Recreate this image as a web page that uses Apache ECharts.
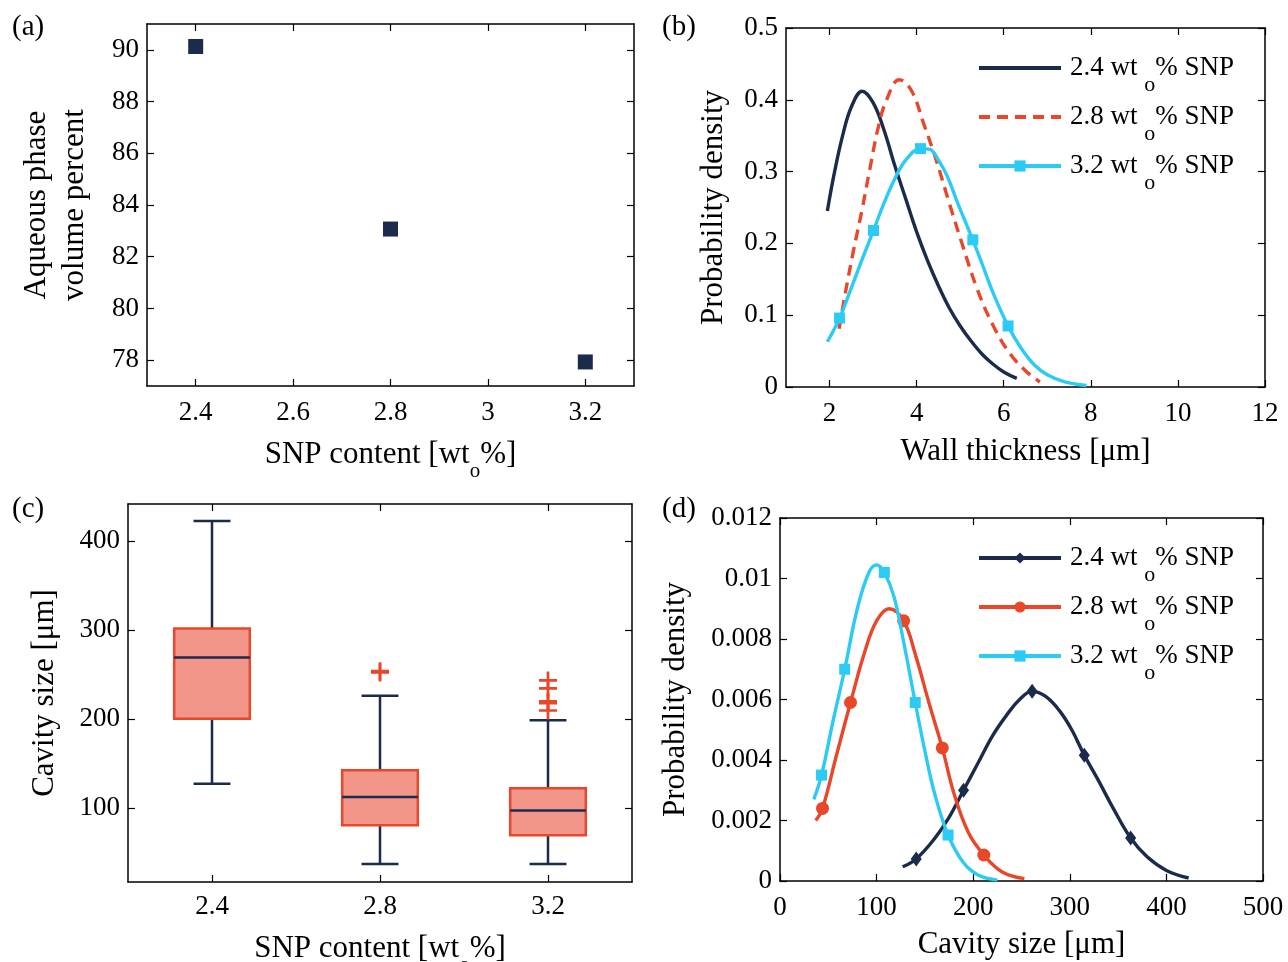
<!DOCTYPE html>
<html><head><meta charset="utf-8">
<script src="https://cdn.jsdelivr.net/npm/echarts@6/dist/echarts.min.js"></script>
<style>html,body{margin:0;padding:0;background:#fff}#c{width:1288px;height:962px}</style>
</head><body><div id="c"></div>
<script>
// ---------- Panel (a) ----------
const aSnp = [2.4, 2.8, 3.2];
const aAqueous = [90.13, 83.07, 77.93];
const aXTicks = [2.4, 2.6, 2.8, 3.0, 3.2];
const aYTicks = [78, 80, 82, 84, 86, 88, 90];
// ---------- Panel (b) ----------
const bWall24 = [[1.95,0.245],[2.1,0.295],[2.3,0.35],[2.5,0.39],[2.75,0.412],[3.0,0.396],[3.25,0.358],[3.5,0.308],[3.75,0.262],[4.0,0.216],[4.25,0.176],[4.5,0.141],[4.75,0.11],[5.0,0.085],[5.25,0.064],[5.5,0.046],[5.75,0.032],[6.0,0.021],[6.3,0.012]];
const bWall28 = [[2.22,0.081],[2.36,0.13],[2.55,0.19],[2.74,0.245],[2.93,0.305],[3.12,0.362],[3.31,0.40],[3.6,0.428],[3.88,0.413],[4.16,0.367],[4.45,0.316],[4.73,0.26],[5.02,0.204],[5.4,0.135],[5.77,0.084],[6.15,0.046],[6.53,0.021],[6.83,0.007]];
const bWall32 = [[1.95,0.063],[2.23,0.096],[2.5,0.138],[2.75,0.178],[3.01,0.218],[3.25,0.256],[3.5,0.29],[3.75,0.316],[4.09,0.332],[4.3,0.331],[4.5,0.316],[4.7,0.294],[4.95,0.255],[5.29,0.205],[5.5,0.172],[5.75,0.132],[6.1,0.085],[6.4,0.054],[6.7,0.031],[7.0,0.017],[7.4,0.007],[7.9,0.002]];
const bMarkers32 = [1, 4, 8, 13, 16];
const bXTicks = [2, 4, 6, 8, 10, 12];
// ---------- Panel (c) ----------
const cCategories = ['2.4', '2.8', '3.2'];
// [min, Q1, median, Q3, max]
const cBoxes = [[127.4, 200.5, 269.5, 302, 423], [37.3, 80.8, 112.7, 142.7, 226.4], [37.3, 69.6, 97.3, 122.5, 199]];
const cOutliers = [[1, 252.6], [1, 254.0], [2, 243.6], [2, 234.6], [2, 220.0], [2, 218.0], [2, 209.8]];
const cYTicks = [100, 200, 300, 400];
// ---------- Panel (d) ----------
const dCav24 = [[127,0.00047],[141,0.00073],[160,0.0014],[175,0.0021],[190,0.0030],[205,0.0039],[220,0.0048],[235,0.0055],[248,0.0060],[261,0.00627],[275,0.0061],[290,0.0056],[302,0.0050],[315,0.00416],[330,0.0033],[345,0.0024],[363,0.00142],[380,0.0008],[400,0.00035],[423,0.0001]];
const dCav28 = [[37,0.0020],[44,0.0024],[58,0.0041],[73,0.0059],[88,0.0076],[100,0.0086],[113,0.0090],[128,0.0086],[140,0.0075],[155,0.0058],[168,0.0044],[180,0.0029],[195,0.0016],[211,0.00086],[230,0.00030],[253,0.00008]];
const dCav32 = [[35,0.0027],[43,0.0035],[55,0.0053],[67,0.0070],[80,0.0090],[92,0.0102],[100,0.01045],[108,0.0102],[118,0.0094],[128,0.0079],[140,0.0059],[150,0.0043],[160,0.0029],[174,0.00152],[190,0.0006],[205,0.0002],[225,0.00003]];
const dMarkers24 = [1, 4, 9, 13, 16];
const dMarkers28 = [1, 3, 7, 10, 13];
const dMarkers32 = [1, 3, 7, 10, 13];
const legendLabels = {'24': '2.4', '28': '2.8', '32': '3.2'};

const FONT = '"Liberation Serif", "Times New Roman", serif';
const NAVY = '#1b2b4b', RED = '#e8472a', CYAN = '#2ccbf4', SALMON = '#f3968a';
const chart = echarts.init(document.getElementById('c'));

const lbl = {fontFamily: FONT, fontSize: 27, color: '#000', margin: 8};
const titleStyle = {fontFamily: FONT, fontSize: 31, color: '#000', lineHeight: 38,
  rich: {n: {fontFamily: FONT, fontSize: 31, color: '#000', lineHeight: 36},
         s: {fontFamily: FONT, fontSize: 21, color: '#000', lineHeight: 36, padding: [34, 0, 0, 0]}}};
const lineAx = {show: true, onZero: false, lineStyle: {color: '#000', width: 1.5}};
function tick(vals) { const t = {show: true, inside: true, length: 7, lineStyle: {color: '#000', width: 1.2}}; if (vals) t.customValues = vals; return t; }
function fmtNum(v) { return String(+v.toFixed(4)); }

function valAxis(grid, pos, min, max, opts) {
  const primary = pos === 'bottom' || pos === 'left';
  const ax = {gridIndex: grid, type: 'value', position: pos, min: min, max: max,
    axisLine: lineAx, splitLine: {show: false},
    axisTick: tick(opts.ticks),
    axisLabel: Object.assign({show: primary, formatter: fmtNum}, lbl, pos === 'bottom' ? {margin: 13} : {})};
  if (opts.interval) ax.interval = opts.interval;
  if (opts.ticks) ax.axisLabel.customValues = opts.ticks;
  if (primary && opts.name) {
    ax.name = opts.name; ax.nameLocation = 'middle'; ax.nameGap = opts.nameGap;
    ax.nameTextStyle = titleStyle;
  }
  return ax;
}
function catAxis(grid, pos, opts) {
  const primary = pos === 'bottom';
  const ax = {gridIndex: grid, type: 'category', position: pos, data: cCategories, boundaryGap: true,
    axisLine: lineAx, splitLine: {show: false},
    axisTick: Object.assign(tick(), {alignWithLabel: true}),
    axisLabel: Object.assign({show: primary}, lbl, {margin: 11})};
  if (primary) { ax.name = opts.name; ax.nameLocation = 'middle'; ax.nameGap = opts.nameGap; ax.nameTextStyle = titleStyle; }
  return ax;
}

const snpTitle = '{n|SNP content [wt}{s|o}{n|%]}';

function marked(pts, idx) { return pts.map((p, i) => idx.includes(i) ? {value: p} : {value: p, symbol: 'none'}); }
function curve(name, xi, yi, pts, color, opts) {
  return {
    name: name, type: 'line', xAxisIndex: xi, yAxisIndex: yi, smooth: 0.4,
    data: opts.markers ? marked(pts, opts.markers) : pts,
    symbol: opts.symbol || 'none', symbolSize: opts.symbolSize || 11, showAllSymbol: true,
    lineStyle: {color: color, width: 3.4, type: opts.dash || 'solid'},
    itemStyle: {color: color, opacity: 1}, z: opts.z || 3
  };
}
function legendFor(items, top) {
  return {left: 972, top: top, orient: 'vertical', itemWidth: 82, itemHeight: 14, itemGap: -7,
    selectedMode: false, data: items, lineStyle: {width: 4},
    formatter: n => '{g|}{n|' + legendLabels[n.split('-')[1]] + ' wt }{s|o}{n|% SNP}',
    textStyle: {fontFamily: FONT, fontSize: 27, color: '#000',
      rich: {g: {width: 4}, n: {fontFamily: FONT, fontSize: 27, color: '#000', lineHeight: 30},
             s: {fontFamily: FONT, fontSize: 22, color: '#000', lineHeight: 30, padding: [34, 0, 0, 0]}}}};
}

const plusPath = 'path://M0,8.5H20V11.5H0Z M8.5,0H11.5V20H8.5Z';
const gridBase = {outerBoundsMode: 'none', containLabel: false};

const option = {
  animation: false,
  backgroundColor: '#fff',
  grid: [
    Object.assign({left: 147, top: 24, width: 487, height: 362}, gridBase),
    Object.assign({left: 786, top: 28, width: 479, height: 359}, gridBase),
    Object.assign({left: 128, top: 504, width: 504, height: 378}, gridBase),
    Object.assign({left: 780, top: 518, width: 483, height: 363}, gridBase)
  ],
  xAxis: [
    valAxis(0, 'bottom', 2.3, 3.3, {ticks: aXTicks, name: snpTitle, nameGap: 45}),
    valAxis(0, 'top', 2.3, 3.3, {ticks: aXTicks}),
    valAxis(1, 'bottom', 1, 12, {ticks: bXTicks, name: 'Wall thickness [μm]', nameGap: 46}),
    valAxis(1, 'top', 1, 12, {ticks: bXTicks}),
    catAxis(2, 'bottom', {name: snpTitle, nameGap: 41}),
    catAxis(2, 'top', {}),
    valAxis(3, 'bottom', 0, 500, {interval: 100, name: 'Cavity size [μm]', nameGap: 45}),
    valAxis(3, 'top', 0, 500, {interval: 100})
  ],
  yAxis: [
    valAxis(0, 'left', 77, 91, {ticks: aYTicks, name: 'Aqueous phase\nvolume percent', nameGap: 53}),
    valAxis(0, 'right', 77, 91, {ticks: aYTicks}),
    valAxis(1, 'left', 0, 0.5, {interval: 0.1, name: 'Probability density', nameGap: 53}),
    valAxis(1, 'right', 0, 0.5, {interval: 0.1}),
    valAxis(2, 'left', 17, 442, {ticks: cYTicks, name: 'Cavity size [μm]', nameGap: 64}),
    valAxis(2, 'right', 17, 442, {ticks: cYTicks}),
    valAxis(3, 'left', 0, 0.012, {interval: 0.002, name: 'Probability density', nameGap: 85}),
    valAxis(3, 'right', 0, 0.012, {interval: 0.002})
  ],
  legend: [
    legendFor([{name: 'b-24', itemStyle: {opacity: 0}}, {name: 'b-28', itemStyle: {opacity: 0}}, 'b-32'], 35),
    legendFor(['d-24', 'd-28', 'd-32'], 525)
  ],
  graphic: [
    {type: 'text', left: 12, top: 13, style: {text: '(a)', font: '29px ' + FONT, fill: '#000'}},
    {type: 'text', left: 662, top: 13, style: {text: '(b)', font: '29px ' + FONT, fill: '#000'}},
    {type: 'text', left: 12, top: 495, style: {text: '(c)', font: '29px ' + FONT, fill: '#000'}},
    {type: 'text', left: 662, top: 495, style: {text: '(d)', font: '29px ' + FONT, fill: '#000'}}
  ],
  series: [
    {type: 'scatter', xAxisIndex: 0, yAxisIndex: 0, symbol: 'rect', symbolSize: 15,
     itemStyle: {color: NAVY, opacity: 1}, data: aSnp.map((x, i) => [x, aAqueous[i]])},
    curve('b-24', 2, 2, bWall24, NAVY, {}),
    curve('b-28', 2, 2, bWall28, RED, {dash: [11, 7]}),
    curve('b-32', 2, 2, bWall32, CYAN, {symbol: 'rect', markers: bMarkers32, symbolSize: 11}),
    {type: 'custom', xAxisIndex: 4, yAxisIndex: 4,
     data: cBoxes.map((b, i) => [i].concat(b)),
     encode: {x: 0, y: [1, 2, 3, 4, 5]},
     renderItem: (params, api) => {
       const i = api.value(0);
       const pMin = api.coord([i, api.value(1)]), pQ1 = api.coord([i, api.value(2)]),
             pMd = api.coord([i, api.value(3)]), pQ3 = api.coord([i, api.value(4)]),
             pMax = api.coord([i, api.value(5)]);
       const band = api.size([1, 0])[0];
       const hw = band * 0.225, cw = band * 0.11, x = pMd[0];
       const ns = {stroke: NAVY, lineWidth: 2.5};
       return {type: 'group', children: [
         {type: 'line', shape: {x1: x, y1: pQ3[1], x2: x, y2: pMax[1]}, style: ns},
         {type: 'line', shape: {x1: x, y1: pQ1[1], x2: x, y2: pMin[1]}, style: ns},
         {type: 'line', shape: {x1: x - cw, y1: pMax[1], x2: x + cw, y2: pMax[1]}, style: ns},
         {type: 'line', shape: {x1: x - cw, y1: pMin[1], x2: x + cw, y2: pMin[1]}, style: ns},
         {type: 'rect', shape: {x: x - hw, y: pQ3[1], width: 2 * hw, height: pQ1[1] - pQ3[1]},
          style: {fill: SALMON, stroke: RED, lineWidth: 2.5}},
         {type: 'line', shape: {x1: x - hw, y1: pMd[1], x2: x + hw, y2: pMd[1]}, style: ns}
       ]};
     }},
    {type: 'scatter', xAxisIndex: 4, yAxisIndex: 4, symbol: plusPath, symbolSize: 18,
     itemStyle: {color: RED, opacity: 1}, data: cOutliers},
    curve('d-24', 6, 6, dCav24, NAVY, {symbol: 'diamond', markers: dMarkers24, symbolSize: [11, 15]}),
    curve('d-28', 6, 6, dCav28, RED, {symbol: 'circle', markers: dMarkers28, symbolSize: 13}),
    curve('d-32', 6, 6, dCav32, CYAN, {symbol: 'rect', markers: dMarkers32, symbolSize: 11, z: 4})
  ]
};
chart.setOption(option);
</script></body></html>
